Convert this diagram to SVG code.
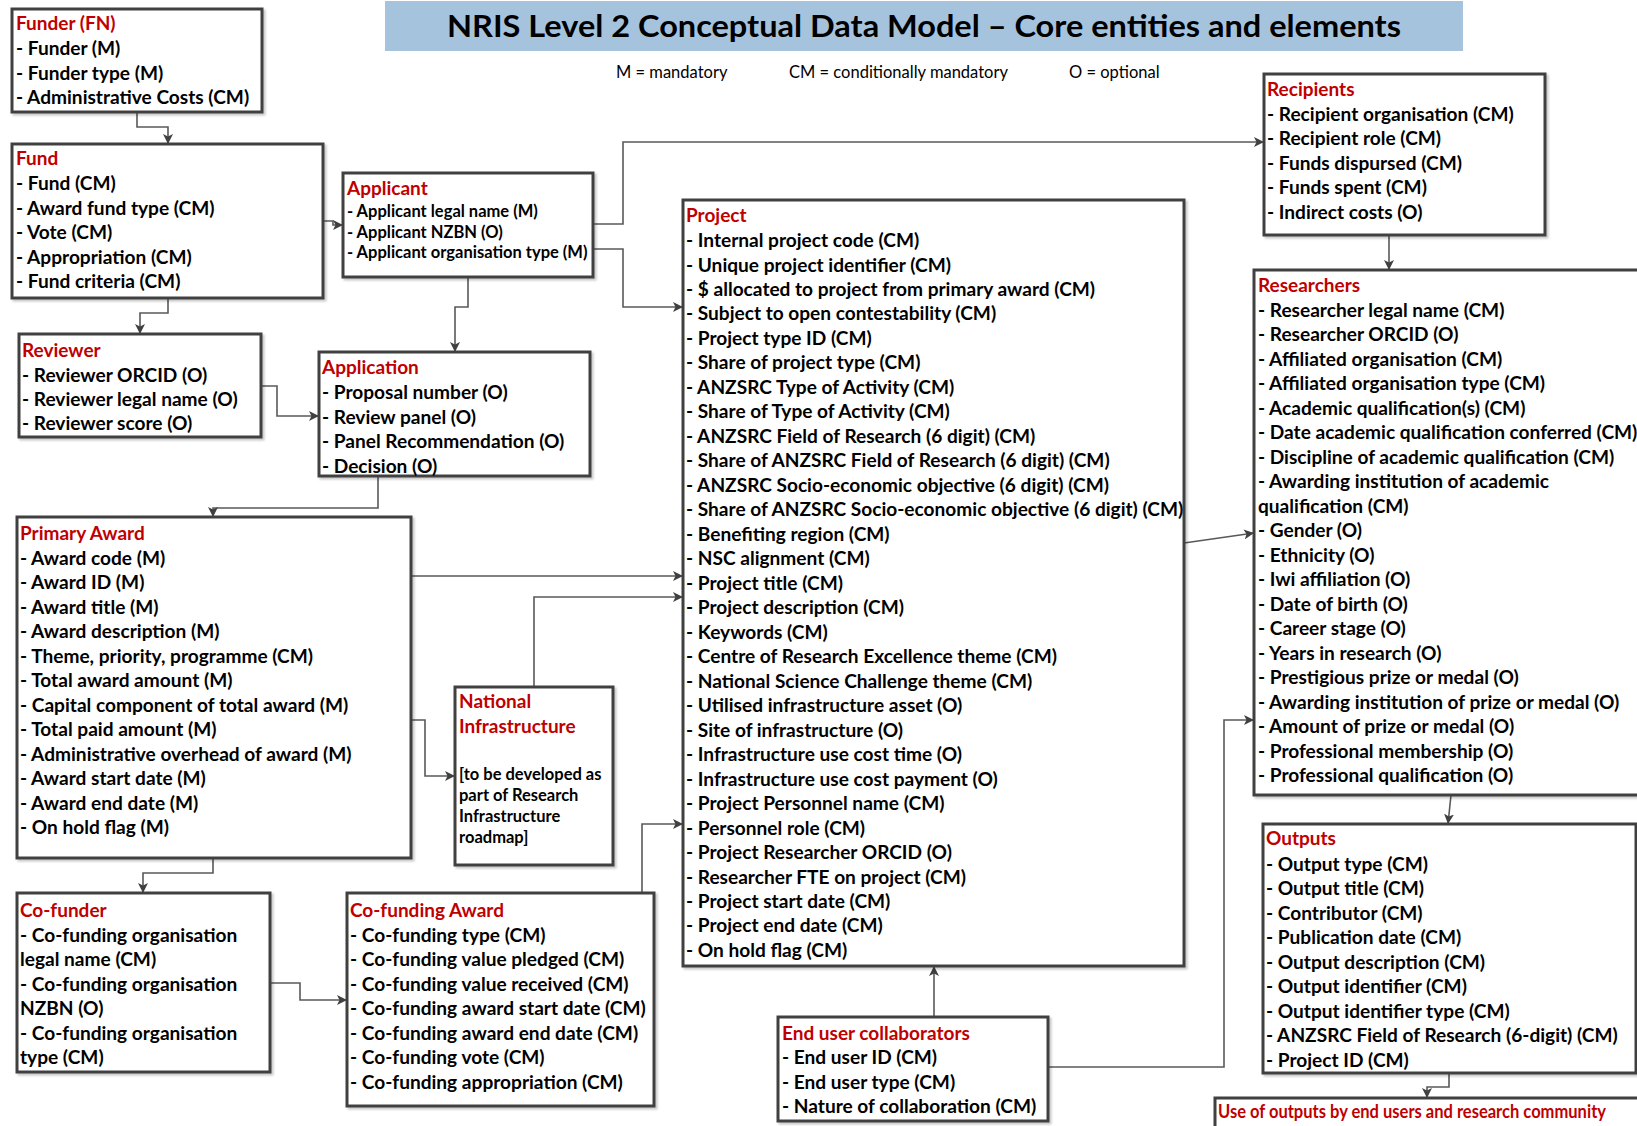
<svg xmlns="http://www.w3.org/2000/svg" width="1637" height="1126" viewBox="0 0 1637 1126">
<defs>
<style>
.box{fill:#fff;stroke:#404040;stroke-width:3;filter:url(#sh)}
.t{font-family:Lato,"Liberation Sans",sans-serif;font-weight:bold;font-size:19px;fill:#c00000}
.i{font-family:Lato,"Liberation Sans",sans-serif;font-weight:bold;font-size:19.1px;fill:#000}
.s{font-family:Lato,"Liberation Sans",sans-serif;font-weight:bold;font-size:16.5px;fill:#000}
.lg{font-family:Lato,"Liberation Sans",sans-serif;font-size:16.5px;fill:#000}
.c{fill:none;stroke:#595959;stroke-width:1.6;marker-end:url(#ah)}
</style>
<filter id="sh" x="-5%" y="-5%" width="112%" height="112%">
<feDropShadow dx="2" dy="2" stdDeviation="1.2" flood-color="#000" flood-opacity="0.22"/>
</filter>
<marker id="ah" markerUnits="userSpaceOnUse" markerWidth="12" markerHeight="10" refX="10" refY="5" orient="auto">
<path d="M0,0 L10,5 L0,10 L2.5,5 Z" fill="#404040"/>
</marker>
</defs>
<rect width="1637" height="1126" fill="#fff"/>

<g id="title">
<rect x="385" y="1" width="1078" height="50" fill="#a6c3de"/>
<text x="924" y="37" text-anchor="middle" font-family="Lato,'Liberation Sans',sans-serif" font-weight="bold" font-size="31" textLength="954" lengthAdjust="spacingAndGlyphs">NRIS Level 2 Conceptual Data Model – Core entities and elements</text>
</g>
<g id="legend" class="lg">
<text class="lg" x="616" y="78">M = mandatory</text>
<text class="lg" x="789" y="78">CM = conditionally mandatory</text>
<text class="lg" x="1069" y="78">O = optional</text>
</g>

<g id="connectors">
<path class="c" d="M137,112 V127 H168 V144"/>
<path class="c" d="M323,221 H333 V225 H343"/>
<path class="c" d="M168,298 V313 H140 V334"/>
<path class="c" d="M593,224 H623 V142 H1264"/>
<path class="c" d="M593,249 H623 V307 H683"/>
<path class="c" d="M468,277 V307 H455 V352"/>
<path class="c" d="M261,386 H277 V416 H319"/>
<path class="c" d="M378,476 V508 H213 V517"/>
<path class="c" d="M411,576 H683"/>
<path class="c" d="M534,687 V597 H683"/>
<path class="c" d="M411,720 H425 V776 H455"/>
<path class="c" d="M213,858 V873 H143 V893"/>
<path class="c" d="M270,983 H300 V1000 H347"/>
<path class="c" d="M642,893 V824 H683"/>
<path class="c" d="M934,1017 V966"/>
<path class="c" d="M1048,1067 H1224 V720 H1254"/>
<path class="c" d="M1184,543 L1254,533"/>
<path class="c" d="M1389,235 V270"/>
<path class="c" d="M1451,795 L1448,824"/>
<path class="c" d="M1449,1073 V1087 H1427 V1098"/>
</g>

<g id="funder">
<rect class="box" x="12" y="9" width="250" height="103"/>
<text class="t" x="16" y="30">Funder (FN)</text>
<text class="i"><tspan x="16" y="55">- Funder (M)</tspan><tspan x="16" y="79.5">- Funder type (M)</tspan><tspan x="16" y="104">- Administrative Costs (CM)</tspan></text>
</g>

<g id="fund">
<rect class="box" x="12" y="144" width="311" height="154"/>
<text class="t" x="16" y="165">Fund</text>
<text class="i"><tspan x="16" y="190">- Fund (CM)</tspan><tspan x="16" y="214.5">- Award fund type (CM)</tspan><tspan x="16" y="239">- Vote (CM)</tspan><tspan x="16" y="263.5">- Appropriation (CM)</tspan><tspan x="16" y="288">- Fund criteria (CM)</tspan></text>
</g>

<g id="applicant">
<rect class="box" x="343" y="173" width="250" height="104"/>
<text class="t" x="347" y="194.5">Applicant</text>
<text class="s"><tspan x="347" y="217">- Applicant legal name (M)</tspan><tspan x="347" y="237.5">- Applicant NZBN (O)</tspan><tspan x="347" y="258">- Applicant organisation type (M)</tspan></text>
</g>

<g id="reviewer">
<rect class="box" x="19" y="334" width="242" height="103"/>
<text class="t" x="22" y="357">Reviewer</text>
<text class="i"><tspan x="22" y="381.5">- Reviewer ORCID (O)</tspan><tspan x="22" y="406">- Reviewer legal name (O)</tspan><tspan x="22" y="430">- Reviewer score (O)</tspan></text>
</g>

<g id="application">
<rect class="box" x="319" y="352" width="271" height="124"/>
<text class="t" x="322" y="374">Application</text>
<text class="i"><tspan x="322" y="399">- Proposal number (O)</tspan><tspan x="322" y="423.5">- Review panel (O)</tspan><tspan x="322" y="448">- Panel Recommendation (O)</tspan><tspan x="322" y="472.5">- Decision (O)</tspan></text>
</g>

<g id="primary-award">
<rect class="box" x="17" y="517" width="394" height="341"/>
<text class="t" x="20" y="539.5">Primary Award</text>
<text class="i"><tspan x="20" y="564.5">- Award code (M)</tspan><tspan x="20" y="589">- Award ID (M)</tspan><tspan x="20" y="613.5">- Award title (M)</tspan><tspan x="20" y="638">- Award description (M)</tspan><tspan x="20" y="662.5">- Theme, priority, programme (CM)</tspan><tspan x="20" y="687">- Total award amount (M)</tspan><tspan x="20" y="711.5">- Capital component of total award (M)</tspan><tspan x="20" y="736">- Total paid amount (M)</tspan><tspan x="20" y="760.5">- Administrative overhead of award (M)</tspan><tspan x="20" y="785">- Award start date (M)</tspan><tspan x="20" y="809.5">- Award end date (M)</tspan><tspan x="20" y="834">- On hold flag (M)</tspan></text>
</g>

<g id="national-infrastructure">
<rect class="box" x="455" y="687" width="158" height="178"/>
<text class="t"><tspan x="459" y="708">National</tspan><tspan x="459" y="733">Infrastructure</tspan></text>
<text class="s"><tspan x="459" y="780">[to be developed as</tspan><tspan x="459" y="801">part of Research</tspan><tspan x="459" y="822">Infrastructure</tspan><tspan x="459" y="843">roadmap]</tspan></text>
</g>

<g id="co-funder">
<rect class="box" x="17" y="893" width="253" height="179"/>
<text class="t" x="20" y="917">Co-funder</text>
<text class="i"><tspan x="20" y="941.5">- Co-funding organisation</tspan><tspan x="20" y="966">legal name (CM)</tspan><tspan x="20" y="990.5">- Co-funding organisation</tspan><tspan x="20" y="1015">NZBN (O)</tspan><tspan x="20" y="1039.5">- Co-funding organisation</tspan><tspan x="20" y="1064">type (CM)</tspan></text>
</g>

<g id="co-funding-award">
<rect class="box" x="347" y="893" width="307" height="213"/>
<text class="t" x="350" y="917">Co-funding Award</text>
<text class="i"><tspan x="350" y="941.5">- Co-funding type (CM)</tspan><tspan x="350" y="966">- Co-funding value pledged (CM)</tspan><tspan x="350" y="990.5">- Co-funding value received (CM)</tspan><tspan x="350" y="1015">- Co-funding award start date (CM)</tspan><tspan x="350" y="1039.5">- Co-funding award end date (CM)</tspan><tspan x="350" y="1064">- Co-funding vote (CM)</tspan><tspan x="350" y="1088.5">- Co-funding appropriation (CM)</tspan></text>
</g>

<g id="project">
<rect class="box" x="683" y="200" width="501" height="766"/>
<text class="t" x="686" y="222">Project</text>
<text class="i"><tspan x="686" y="247">- Internal project code (CM)</tspan><tspan x="686" y="271.5">- Unique project identifier (CM)</tspan><tspan x="686" y="296">- $ allocated to project from primary award (CM)</tspan><tspan x="686" y="320.4">- Subject to open contestability (CM)</tspan><tspan x="686" y="344.9">- Project type ID (CM)</tspan><tspan x="686" y="369.4">- Share of project type (CM)</tspan><tspan x="686" y="393.9">- ANZSRC Type of Activity (CM)</tspan><tspan x="686" y="418.4">- Share of Type of Activity (CM)</tspan><tspan x="686" y="442.8">- ANZSRC Field of Research (6 digit) (CM)</tspan><tspan x="686" y="467.3">- Share of ANZSRC Field of Research (6 digit) (CM)</tspan><tspan x="686" y="491.8">- ANZSRC Socio-economic objective (6 digit) (CM)</tspan><tspan x="686" y="516.3">- Share of ANZSRC Socio-economic objective (6 digit) (CM)</tspan><tspan x="686" y="540.8">- Benefiting region (CM)</tspan><tspan x="686" y="565.2">- NSC alignment (CM)</tspan><tspan x="686" y="589.7">- Project title (CM)</tspan><tspan x="686" y="614.2">- Project description (CM)</tspan><tspan x="686" y="638.7">- Keywords (CM)</tspan><tspan x="686" y="663.2">- Centre of Research Excellence theme (CM)</tspan><tspan x="686" y="687.6">- National Science Challenge theme (CM)</tspan><tspan x="686" y="712.1">- Utilised infrastructure asset (O)</tspan><tspan x="686" y="736.6">- Site of infrastructure (O)</tspan><tspan x="686" y="761.1">- Infrastructure use cost time (O)</tspan><tspan x="686" y="785.6">- Infrastructure use cost payment (O)</tspan><tspan x="686" y="810">- Project Personnel name (CM)</tspan><tspan x="686" y="834.5">- Personnel role (CM)</tspan><tspan x="686" y="859">- Project Researcher ORCID (O)</tspan><tspan x="686" y="883.5">- Researcher FTE on project (CM)</tspan><tspan x="686" y="908">- Project start date (CM)</tspan><tspan x="686" y="932.4">- Project end date (CM)</tspan><tspan x="686" y="956.9">- On hold flag (CM)</tspan></text>
</g>

<g id="end-user-collaborators">
<rect class="box" x="778" y="1017" width="270" height="104"/>
<text class="t" x="782" y="1040">End user collaborators</text>
<text class="i"><tspan x="782" y="1064">- End user ID (CM)</tspan><tspan x="782" y="1088.5">- End user type (CM)</tspan><tspan x="782" y="1113">- Nature of collaboration (CM)</tspan></text>
</g>

<g id="recipients">
<rect class="box" x="1264" y="74" width="281" height="161"/>
<text class="t" x="1267" y="95.5">Recipients</text>
<text class="i"><tspan x="1267" y="120.5">- Recipient organisation (CM)</tspan><tspan x="1267" y="145">- Recipient role (CM)</tspan><tspan x="1267" y="169.5">- Funds dispursed (CM)</tspan><tspan x="1267" y="194">- Funds spent (CM)</tspan><tspan x="1267" y="218.5">- Indirect costs (O)</tspan></text>
</g>

<g id="researchers">
<rect class="box" x="1254" y="270" width="410" height="525"/>
<text class="t" x="1258" y="292">Researchers</text>
<text class="i"><tspan x="1258" y="316.5">- Researcher legal name (CM)</tspan><tspan x="1258" y="341">- Researcher ORCID (O)</tspan><tspan x="1258" y="365.5">- Affiliated organisation (CM)</tspan><tspan x="1258" y="390">- Affiliated organisation type (CM)</tspan><tspan x="1258" y="414.5">- Academic qualification(s) (CM)</tspan><tspan x="1258" y="439">- Date academic qualification conferred (CM)</tspan><tspan x="1258" y="463.5">- Discipline of academic qualification (CM)</tspan><tspan x="1258" y="488">- Awarding institution of academic</tspan><tspan x="1258" y="512.5">qualification (CM)</tspan><tspan x="1258" y="537">- Gender (O)</tspan><tspan x="1258" y="561.5">- Ethnicity (O)</tspan><tspan x="1258" y="586">- Iwi affiliation (O)</tspan><tspan x="1258" y="610.5">- Date of birth (O)</tspan><tspan x="1258" y="635">- Career stage (O)</tspan><tspan x="1258" y="659.5">- Years in research (O)</tspan><tspan x="1258" y="684">- Prestigious prize or medal (O)</tspan><tspan x="1258" y="708.5">- Awarding institution of prize or medal (O)</tspan><tspan x="1258" y="733">- Amount of prize or medal (O)</tspan><tspan x="1258" y="757.5">- Professional membership (O)</tspan><tspan x="1258" y="782">- Professional qualification (O)</tspan></text>
</g>

<g id="outputs">
<rect class="box" x="1263" y="824" width="373" height="249"/>
<text class="t" x="1266" y="845">Outputs</text>
<text class="i"><tspan x="1266" y="870.5">- Output type (CM)</tspan><tspan x="1266" y="895">- Output title (CM)</tspan><tspan x="1266" y="919.5">- Contributor (CM)</tspan><tspan x="1266" y="944">- Publication date (CM)</tspan><tspan x="1266" y="968.5">- Output description (CM)</tspan><tspan x="1266" y="993">- Output identifier (CM)</tspan><tspan x="1266" y="1017.5">- Output identifier type (CM)</tspan><tspan x="1266" y="1042">- ANZSRC Field of Research (6-digit) (CM)</tspan><tspan x="1266" y="1066.5">- Project ID (CM)</tspan></text>
</g>

<g id="use-of-outputs">
<rect class="box" x="1215" y="1098" width="440" height="50"/>
<text class="t" x="1218" y="1118" font-size="17.5" textLength="388" lengthAdjust="spacingAndGlyphs">Use of outputs by end users and research community</text>
</g>
</svg>
